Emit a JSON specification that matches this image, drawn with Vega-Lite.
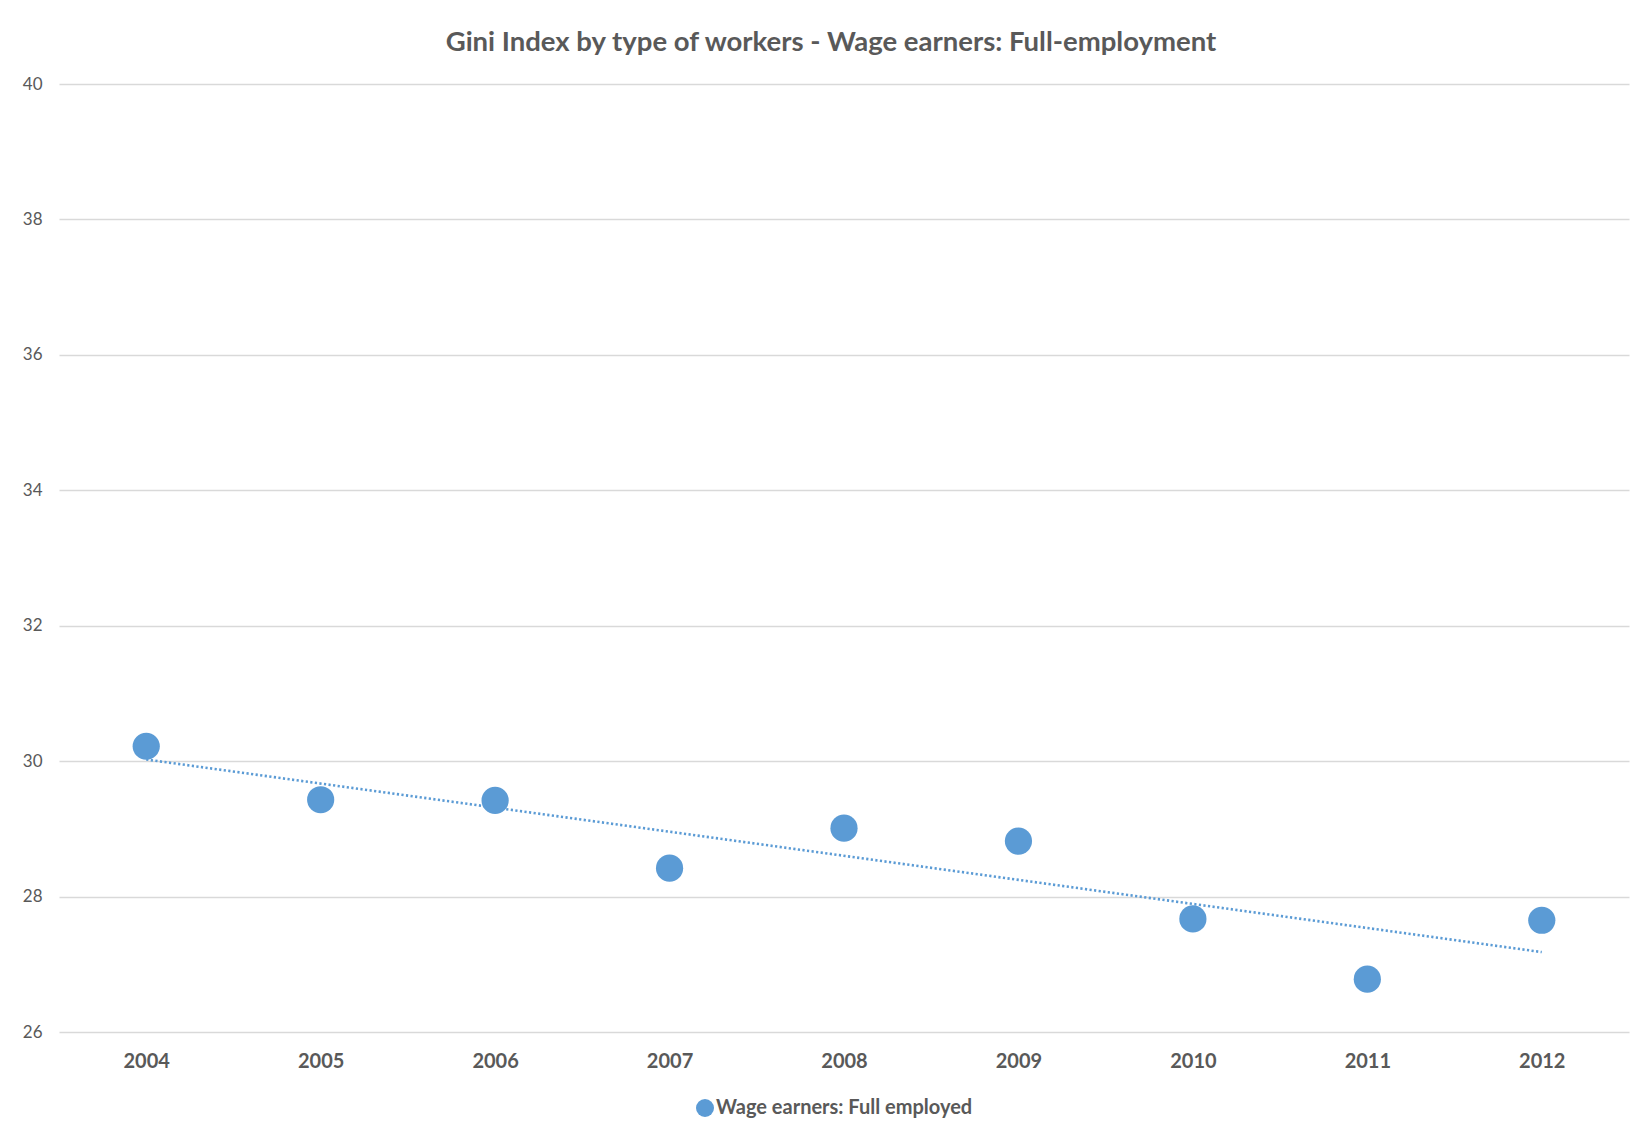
{
  "$schema": "https://vega.github.io/schema/vega-lite/v6.json",
  "autosize": "none",
  "width": 1570,
  "height": 948,
  "padding": {"left": 59, "top": 84, "right": 20, "bottom": 101},
  "background": "white",
  "config": {
    "view": {"stroke": null},
    "font": "Lato",
    "axis": {"labelColor": "#595959", "gridColor": "#D9D9D9", "gridWidth": 1.3, "domain": false, "ticks": false},
    "legend": {"padding": 0}
  },
  "title": {
    "text": "Gini Index by type of workers - Wage earners: Full-employment",
    "font": "Lato",
    "fontSize": 27.5,
    "fontWeight": "bold",
    "color": "#595959",
    "anchor": "middle",
    "dx": -13,
    "offset": 19
  },
  "data": {
    "values": [
      {"year": 2004, "gini": 30.22, "series": "Wage earners: Full employed"},
      {"year": 2005, "gini": 29.43, "series": "Wage earners: Full employed"},
      {"year": 2006, "gini": 29.42, "series": "Wage earners: Full employed"},
      {"year": 2007, "gini": 28.42, "series": "Wage earners: Full employed"},
      {"year": 2008, "gini": 29.01, "series": "Wage earners: Full employed"},
      {"year": 2009, "gini": 28.82, "series": "Wage earners: Full employed"},
      {"year": 2010, "gini": 27.67, "series": "Wage earners: Full employed"},
      {"year": 2011, "gini": 26.78, "series": "Wage earners: Full employed"},
      {"year": 2012, "gini": 27.65, "series": "Wage earners: Full employed"}
    ]
  },
  "layer": [
    {
      "transform": [{"regression": "gini", "on": "year"}],
      "mark": {"type": "line", "color": "#5B9BD5", "strokeWidth": 2.6, "strokeDash": [2.2, 2.4]},
      "encoding": {
        "x": {"field": "year", "type": "quantitative", "scale": {"domain": [2003.5, 2012.5]}},
        "y": {"field": "gini", "type": "quantitative", "scale": {"domain": [26, 40]}}
      }
    },
    {
      "mark": {"type": "point", "filled": true, "opacity": 1, "size": 740, "shape": "circle"},
      "encoding": {
        "x": {
          "field": "year", "type": "quantitative",
          "scale": {"domain": [2003.5, 2012.5], "nice": false, "zero": false},
          "axis": {"title": null, "values": [2004, 2005, 2006, 2007, 2008, 2009, 2010, 2011, 2012], "format": "d", "grid": false, "labelFontSize": 20, "labelFontWeight": "bold", "labelPadding": 19, "labelFont": "Lato"}
        },
        "y": {
          "field": "gini", "type": "quantitative",
          "scale": {"domain": [26, 40], "nice": false, "zero": false},
          "axis": {"title": null, "values": [26, 28, 30, 32, 34, 36, 38, 40], "format": "d", "labelFontSize": 17, "labelPadding": 17, "labelFont": "Lato"}
        },
        "color": {
          "field": "series", "type": "nominal",
          "scale": {"range": ["#5B9BD5"]},
          "legend": {"title": null, "orient": "none", "legendX": 636, "legendY": 1014, "symbolSize": 324, "symbolType": "circle", "symbolOpacity": 1, "labelFontSize": 20, "labelFontWeight": "bold", "labelColor": "#595959", "labelOffset": 1, "labelLimit": 0, "labelFont": "Lato"}
        }
      }
    }
  ]
}
